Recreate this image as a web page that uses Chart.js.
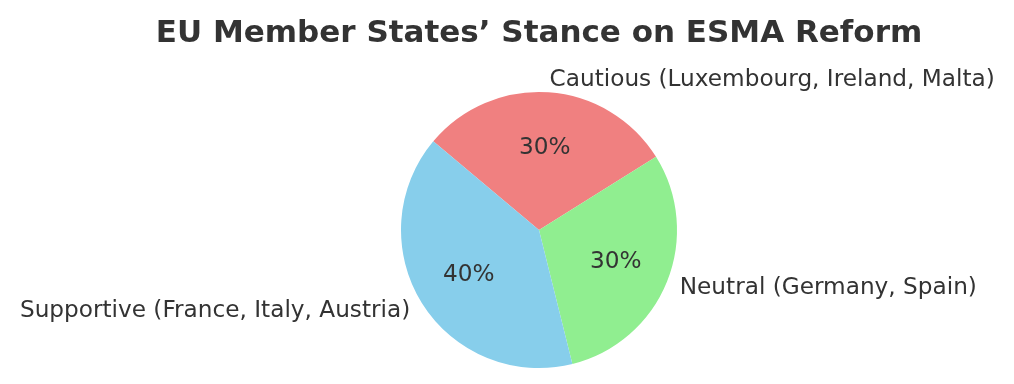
<!DOCTYPE html>
<html>
<head>
<meta charset="utf-8">
<script src="https://cdn.jsdelivr.net/npm/chart.js@4"></script>
<style>
    html, body { margin: 0; padding: 0; background: #fff; }
    #wrap { width: 1014px; height: 384px; }
</style>
</head>
<body>
<div id="wrap"><canvas id="stance" width="1014" height="384"></canvas></div>
<script>
// DATA

const title = "EU Member States\u2019 Stance on ESMA Reform";
const categories = ["Supportive (France, Italy, Austria)", "Neutral (Germany, Spain)", "Cautious (Luxembourg, Ireland, Malta)"];
const shares = [40, 30, 30];
const colors = ["#87CEEB", "#90EE90", "#F08080"];

// chart.js goes clockwise, so reverse the order
const labelsCw = categories.slice().reverse();
const sharesCw = shares.slice().reverse();
const colorsCw = colors.slice().reverse();

const textColor = "#333333";
const fontFamily = "'DejaVu Sans', sans-serif";

// draws title, outside labels and percentages
const pieText = {
    id: "pieText",
    afterDraw(chart) {
        const c = chart.ctx;
        const arcs = chart.getDatasetMeta(0).data;
        const total = sharesCw.reduce((a, b) => a + b, 0);
        c.save();
        c.fillStyle = textColor;

        c.font = "bold 31px " + fontFamily;
        c.textAlign = "center";
        c.textBaseline = "middle";
        c.fillText(title, 539, 34);

        c.font = "23.2px " + fontFamily;
        arcs.forEach((arc, i) => {
            const mid = (arc.startAngle + arc.endAngle) / 2;
            const r = arc.outerRadius;
            const cx = arc.x, cy = arc.y;
            // label at 1.1 r
            const lx = cx + Math.cos(mid) * r * 1.1;
            const ly = cy + Math.sin(mid) * r * 1.1 + 1;
            c.textAlign = Math.cos(mid) >= 0 ? "left" : "right";
            c.fillText(labelsCw[i], lx, ly);
            // percent at 0.6 r
            const px = cx + Math.cos(mid) * r * 0.6;
            const py = cy + Math.sin(mid) * r * 0.6 + 1;
            c.textAlign = "center";
            c.fillText(Math.round(sharesCw[i] / total * 100) + "%", px, py);
        });
        c.restore();
    },
};

const ctx = document.getElementById("stance").getContext("2d");
new Chart(ctx, {
    type: "pie",
    data: {
        labels: labelsCw,
        datasets: [
            {
                data: sharesCw,
                backgroundColor: colorsCw,
                borderWidth: 0,
            },
        ],
    },
    options: {
        responsive: false,
        animation: false,
        rotation: -50,
        layout: {
            padding: { left: 401, right: 337, top: 92, bottom: 16 },
        },
        plugins: {
            legend: { display: false },
            tooltip: { enabled: false },
        },
    },
    plugins: [pieText],
});
</script>
</body>
</html>
